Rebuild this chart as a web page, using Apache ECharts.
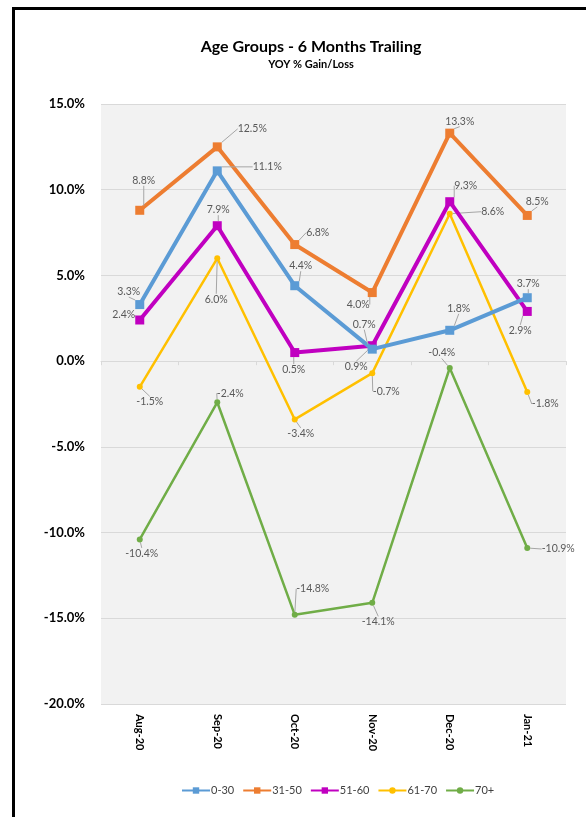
<!DOCTYPE html>
<html>
<head>
<meta charset="utf-8">
<script src="https://cdn.jsdelivr.net/npm/echarts@6/dist/echarts.min.js"></script>
<style>
  html, body { margin: 0; padding: 0; background: #fff; }
  #chart { width: 586px; height: 817px; }
</style>
</head>
<body>
<div id="chart"></div>
<script>
const months = ['Aug-20', 'Sep-20', 'Oct-20', 'Nov-20', 'Dec-20', 'Jan-21'];
const groups = ['0-30', '31-50', '51-60', '61-70', '70+'];

// YOY % gain/loss per age group
const age0to30 = [3.3, 11.1, 4.4, 0.7, 1.8, 3.7];
const age31to50 = [8.8, 12.5, 6.8, 4.0, 13.3, 8.5];
const age51to60 = [2.4, 7.9, 0.5, 0.9, 9.3, 2.9];
const age61to70 = [-1.5, 6.0, -3.4, -0.7, 8.6, -1.8];
const age70plus = [-10.4, -2.4, -14.8, -14.1, -0.4, -10.9];

const yTicks = [-20, -15, -10, -5, 0, 5, 10, 15];

// where each data label sits relative to its point (px), like the excel layout
const labelShift = [
    [[-11, -13], [50, -4], [6, -20], [-8, -25], [9, -22], [1, -14]],
    [[4, -30], [35, -18], [23, -12], [-14, 12], [10, -12], [10, -14]],
    [[-16, -5], [1, -16], [-1, 17], [-16, 21], [16, -16], [-7, 19]],
    [[10, 15], [-1, 41], [6, 14], [14, 18], [43, -2], [18, 12]],
    [[2, 14], [13, -9], [18, -26], [6, 19], [-8, -15], [31, 1]]
];

const colors = ['#5B9BD5', '#ED7D31', '#C000C0', '#FFC000', '#70AD47'];
const FONT = 'Lato';

const chart = echarts.init(document.getElementById('chart'));

function makeSeries(name, values, idx) {
    const thick = idx < 3;
    return {
        name: name,
        type: 'line',
        data: values,
        xAxisIndex: 0,
        color: colors[idx],
        symbol: thick ? 'rect' : 'circle',
        symbolSize: thick ? 9 : 6,
        lineStyle: { width: thick ? 4 : 2.5, color: colors[idx] },
        itemStyle: { color: colors[idx] },
        z: 10 - idx,
        label: {
            show: true,
            position: 'top',
            distance: 0,
            color: '#595959',
            fontSize: 10.5,
            fontFamily: FONT,
            formatter: p => p.value.toFixed(1) + '%'
        },
        labelLine: {
            show: true,
            lineStyle: { color: '#A6A6A6', width: 1 }
        },
        labelLayout: function (p) {
            const s = labelShift[idx][p.dataIndex];
            const cx = p.rect.x + p.rect.width / 2;
            const cy = p.rect.y + p.rect.height / 2;
            return {
                x: cx + s[0],
                y: cy + s[1],
                align: 'center',
                verticalAlign: 'middle'
            };
        },
        emphasis: { disabled: true }
    };
}

const option = {
    animation: false,
    textStyle: { fontFamily: FONT },
    title: {
        text: 'Age Groups - 6 Months Trailing',
        subtext: 'YOY % Gain/Loss',
        left: 306,
        textAlign: 'center',
        top: 34,
        itemGap: 4,
        textStyle: { fontSize: 16, fontWeight: 'bold', color: '#000', fontFamily: FONT },
        subtextStyle: { fontSize: 11, fontWeight: 'bold', color: '#000', fontFamily: FONT }
    },
    legend: {
        data: groups,
        left: 176,
        top: 780,
        itemWidth: 28,
        itemHeight: 8,
        itemGap: 8,
        textStyle: { fontSize: 11, color: '#404040', fontFamily: FONT, padding: [0, 0, 0, -4] }
    },
    graphic: [
        { type: 'rect', shape: { x: 12, y: 7, width: 3, height: 810 }, style: { fill: '#000' }, silent: true },
        { type: 'rect', shape: { x: 12, y: 7, width: 574, height: 3 }, style: { fill: '#000' }, silent: true }
    ],
    grid: {
        left: 101,
        right: 20,
        top: 104,
        bottom: 113,
        show: true,
        backgroundColor: '#F2F2F2',
        borderWidth: 0
    },
    xAxis: [
        {
            type: 'category',
            data: months,
            boundaryGap: true,
            axisLine: { show: false, onZero: false },
            axisTick: { show: false },
            axisLabel: {
                rotate: -90,
                margin: 10,
                fontSize: 11,
                fontWeight: 'bold',
                color: '#000',
                fontFamily: FONT
            }
        },
        {
            type: 'category',
            data: months,
            position: 'bottom',
            boundaryGap: true,
            axisLine: { show: true, onZero: true, lineStyle: { color: '#D9D9D9', width: 1 } },
            axisTick: { show: true, length: 4, lineStyle: { color: '#D9D9D9' } },
            axisLabel: { show: false }
        }
    ],
    yAxis: {
        type: 'value',
        min: yTicks[0],
        max: yTicks[yTicks.length - 1],
        interval: 5,
        axisLine: { show: false },
        axisTick: { show: false },
        splitLine: { show: true, lineStyle: { color: '#D9D9D9', width: 1 } },
        axisLabel: {
            margin: 16,
            fontSize: 13,
            fontWeight: 'bold',
            color: '#000',
            fontFamily: FONT,
            formatter: v => v.toFixed(1) + '%'
        }
    },
    series: [
        makeSeries(groups[0], age0to30, 0),
        makeSeries(groups[1], age31to50, 1),
        makeSeries(groups[2], age51to60, 2),
        makeSeries(groups[3], age61to70, 3),
        makeSeries(groups[4], age70plus, 4)
    ]
};

chart.setOption(option);
</script>
</body>
</html>
